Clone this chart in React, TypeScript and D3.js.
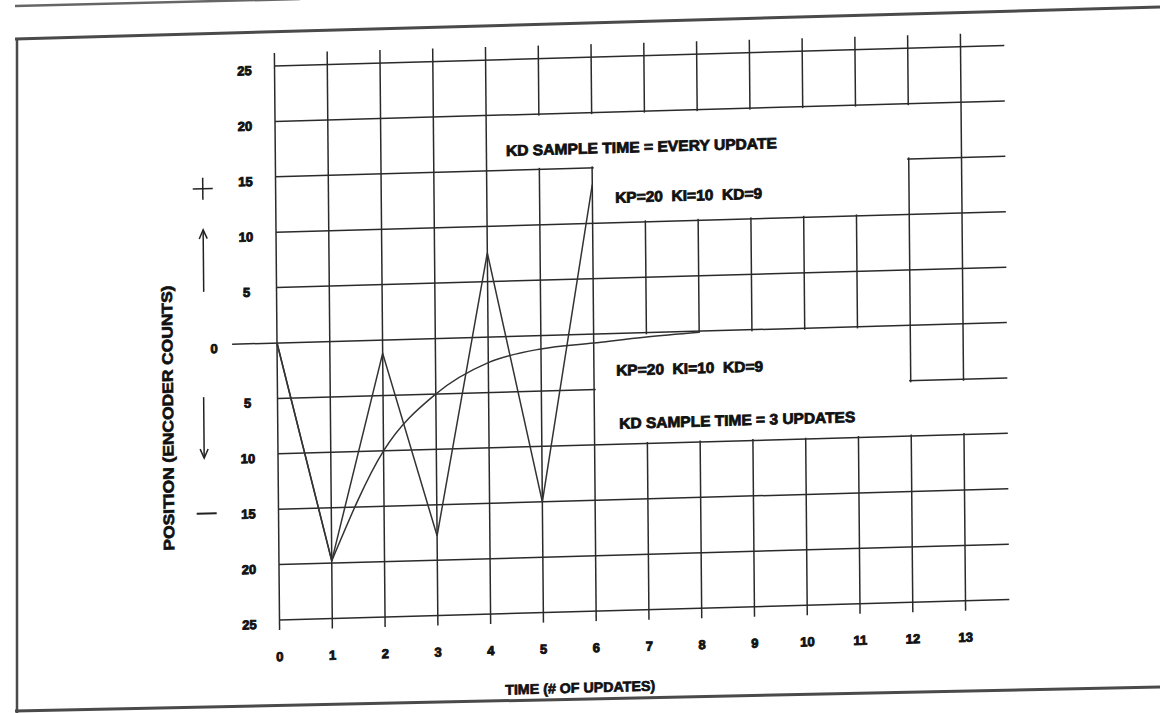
import React, { useEffect, useRef } from 'react';
import * as d3 from 'd3';

// axis ticks
const xTicks = [0, 1, 2, 3, 4, 5, 6, 7, 8, 9, 10, 11, 12, 13];
const xTickLabels = ['0', '1', '2', '3', '4', '5', '6', '7', '8', '9', '10', '11', '12', '13'];
const yTicks = [25, 20, 15, 10, 5, 0, -5, -10, -15, -20, -25];
const yTickLabels = ['25', '20', '15', '10', '5', '0', '5', '10', '15', '20', '25'];

// KD sample time = every update
const everyUpdateX = [0, 1, 2, 3, 4, 5, 6];
const everyUpdateY = [0, -19.8, -1.2, -17.8, 7.6, -15, 13.5];

// KD sample time = 3 updates
const threeUpdatesX = [0, 1, 2, 3, 4, 5, 6, 7, 8];
const threeUpdatesY = [0, -19.8, -10, -5, -2.3, -1.2, -0.8, -0.4, -0.1];

// white label boxes that blank out the grid (data units)
const boxLeft = [4, 6, 6, 6];
const boxRight = [13, 12, 12, 13.9];
const boxTop = [20, 15.5, 0, -5];
const boxBottom = [15, 10, -10, -10];

// annotations
const noteText = ['KD SAMPLE TIME = EVERY UPDATE', 'KP=20  KI=10  KD=9', 'KP=20  KI=10  KD=9', 'KD SAMPLE TIME = 3 UPDATES'];
const noteX = [4.37, 6.43, 6.42, 6.47];
const noteY = [16.8, 12.3, -3.3, -8.1];
const noteWidth = [271, 147, 147, 236];

const App = () => {
  const ref = useRef<SVGSVGElement>(null);

  useEffect(() => {
    const svg = d3.select(ref.current);
    svg.selectAll('*').remove();

    const x = d3.scaleLinear().domain([0, 13]).range([277, 963]);
    const y = d3.scaleLinear().domain([25, -25]).range([66, 620]);
    const ox = x(0);
    const oy = y(0);
    const ink = '#2a2a2a';
    const font = "'Liberation Sans', Arial, sans-serif";

    // page frame of the scan
    const frame = svg.append('g').attr('stroke', '#4a4a4a').attr('fill', 'none');
    frame.append('line').attr('x1', 15).attr('y1', 39).attr('x2', 1160).attr('y2', 7).attr('stroke-width', 3);
    frame.append('line').attr('x1', 15).attr('y1', 6).attr('x2', 300).attr('y2', -1).attr('stroke-width', 2.5).attr('stroke', '#666');
    frame.append('line').attr('x1', 17).attr('y1', 38).attr('x2', 17).attr('y2', 713).attr('stroke-width', 2.5);
    frame.append('line').attr('x1', 15).attr('y1', 711).attr('x2', 1160).attr('y2', 687).attr('stroke-width', 3);

    // the scan is skewed slightly
    const g = svg
      .append('g')
      .attr('transform', `translate(${ox},${oy}) matrix(1,-0.028,0.009,1,0,0) translate(${-ox},${-oy})`);

    const grid = g.append('g').attr('stroke', ink).attr('stroke-width', 1.5);
    grid
      .selectAll('line.v')
      .data(xTicks)
      .enter()
      .append('line')
      .attr('x1', (d) => x(d))
      .attr('x2', (d) => x(d))
      .attr('y1', y(25) - 13)
      .attr('y2', y(-25) + 10);
    grid
      .selectAll('line.h')
      .data(yTicks)
      .enter()
      .append('line')
      .attr('x1', (d) => (d === 0 ? x(-0.85) : x(0)))
      .attr('x2', x(13.83))
      .attr('y1', (d) => y(d))
      .attr('y2', (d) => y(d));

    // blank boxes
    const pad = 1.6;
    g.append('g')
      .selectAll('rect')
      .data(boxLeft.map((_, i) => i))
      .enter()
      .append('rect')
      .attr('x', (i) => x(boxLeft[i]) + pad)
      .attr('y', (i) => y(boxTop[i]) + pad)
      .attr('width', (i) => x(boxRight[i]) - x(boxLeft[i]) - 2 * pad)
      .attr('height', (i) => y(boxBottom[i]) - y(boxTop[i]) - 2 * pad)
      .attr('fill', '#fff');

    // traces
    const traceColor = '#333';
    const linear = d3
      .line<number>()
      .x((i) => x(everyUpdateX[i]))
      .y((i) => y(everyUpdateY[i]));
    g.append('path')
      .attr('d', linear(everyUpdateX.map((_, i) => i)))
      .attr('fill', 'none')
      .attr('stroke', traceColor)
      .attr('stroke-width', 1.5);

    const pts = threeUpdatesX.map((d, i) => [x(d), y(threeUpdatesY[i])] as [number, number]);
    g.append('path')
      .attr('d', d3.line()(pts.slice(0, 2)))
      .attr('fill', 'none')
      .attr('stroke', traceColor)
      .attr('stroke-width', 1.5);
    g.append('path')
      .attr('d', d3.line().curve(d3.curveMonotoneX)(pts.slice(1)))
      .attr('fill', 'none')
      .attr('stroke', traceColor)
      .attr('stroke-width', 1.5);

    // tick labels
    const tick = (sel) =>
      sel
        .attr('font-family', font)
        .attr('font-weight', 'bold')
        .attr('font-size', 13)
        .attr('fill', '#111')
        .attr('stroke', '#111')
        .attr('stroke-width', 0.9)
        .attr('text-anchor', 'middle')
        .attr('dominant-baseline', 'central');

    g.append('g')
      .selectAll('text')
      .data(yTicks)
      .enter()
      .append('text')
      .attr('x', (d) => (d === 0 ? x(0) - 63 : x(0) - 30))
      .attr('y', (d) => y(d) + 4)
      .text((d, i) => yTickLabels[i])
      .call(tick);

    g.append('g')
      .selectAll('text')
      .data(xTicks)
      .enter()
      .append('text')
      .attr('x', (d) => x(d))
      .attr('y', y(-28.3))
      .text((d, i) => xTickLabels[i])
      .call(tick);

    // annotations
    g.append('g')
      .selectAll('text')
      .data(noteText)
      .enter()
      .append('text')
      .attr('x', (d, i) => x(noteX[i]))
      .attr('y', (d, i) => y(noteY[i]))
      .attr('textLength', (d, i) => noteWidth[i])
      .attr('lengthAdjust', 'spacingAndGlyphs')
      .style('white-space', 'pre')
      .attr('font-family', font)
      .attr('font-weight', 'bold')
      .attr('font-size', 15)
      .attr('fill', '#111')
      .attr('stroke', '#111')
      .attr('stroke-width', 0.8)
      .attr('dominant-baseline', 'central')
      .text((d) => d);

    // axis titles
    g.append('text')
      .attr('transform', `translate(167,415) rotate(-90)`)
      .attr('text-anchor', 'middle')
      .attr('dominant-baseline', 'central')
      .attr('textLength', 265)
      .attr('lengthAdjust', 'spacingAndGlyphs')
      .attr('font-family', font)
      .attr('font-weight', 'bold')
      .attr('font-size', 15)
      .attr('fill', '#111')
      .attr('stroke', '#111')
      .attr('stroke-width', 0.7)
      .text('POSITION (ENCODER COUNTS)');

    g.append('text')
      .attr('x', 577)
      .attr('y', 696)
      .attr('text-anchor', 'middle')
      .attr('dominant-baseline', 'central')
      .attr('textLength', 150)
      .attr('lengthAdjust', 'spacingAndGlyphs')
      .attr('font-family', font)
      .attr('font-weight', 'bold')
      .attr('font-size', 14)
      .attr('fill', '#111')
      .attr('stroke', '#111')
      .attr('stroke-width', 0.7)
      .text('TIME (# OF UPDATES)');

    // direction signs
    const sx = x(-1.38);
    const signs = g.append('g').attr('stroke', '#222').attr('stroke-width', 1.5).attr('fill', 'none');
    signs.append('line').attr('x1', sx - 10).attr('x2', sx + 10).attr('y1', y(14.1)).attr('y2', y(14.1));
    signs.append('line').attr('x1', sx).attr('x2', sx).attr('y1', y(14.1) - 11).attr('y2', y(14.1) + 11);
    signs.append('line').attr('x1', sx).attr('x2', sx).attr('y1', y(10.4)).attr('y2', y(4.8));
    signs.append('path').attr('d', `M${sx - 4},${y(10.4) + 9}L${sx},${y(10.4)}L${sx + 4},${y(10.4) + 9}`);
    signs.append('line').attr('x1', sx - 1).attr('x2', sx - 1).attr('y1', y(-4.7)).attr('y2', y(-10.2));
    signs.append('path').attr('d', `M${sx - 5},${y(-10.2) - 9}L${sx - 1},${y(-10.2)}L${sx + 3},${y(-10.2) - 9}`);
    signs.append('line').attr('x1', sx - 9).attr('x2', sx + 11).attr('y1', y(-15.2)).attr('y2', y(-15.2)).attr('stroke-width', 2);
  }, []);

  return (
    <svg
      ref={ref}
      width={1160}
      height={713}
      style={{ position: 'absolute', left: 0, top: 0, background: '#fff' }}
    ></svg>
  );
};

export default App;
